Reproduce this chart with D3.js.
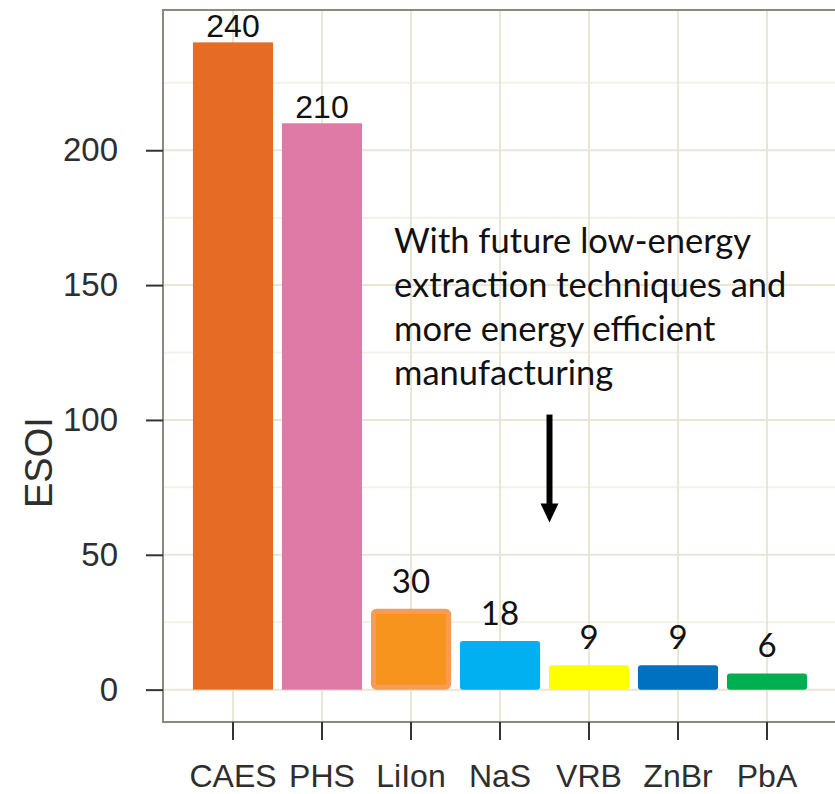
<!DOCTYPE html>
<html>
<head>
<meta charset="utf-8">
<script src="https://cdn.jsdelivr.net/npm/d3@7"></script>
<style>
  body { margin: 0; background: #ffffff; }
  svg { display: block; }
</style>
</head>
<body>
<svg id="chart" width="835" height="794"></svg>
<script>
// Energy stored on invested (ESOI) per storage technology
const categories = ["CAES", "PHS", "LiIon", "NaS", "VRB", "ZnBr", "PbA"];
const esoiValues = [240, 210, 30, 18, 9, 9, 6];
const barColors = ["#e66b25", "#df79a6", "#f7941d", "#00b0f0", "#ffff00", "#0070c0", "#00b050"];
const barOutlines = [null, null, "#f59d58", null, null, null, null];
const yTicks = [0, 50, 100, 150, 200];
const yMinorTicks = [25, 75, 125, 175, 225];
const yTitle = "ESOI";
const noteLines = ["With future low-energy", "extraction techniques and", "more energy efficient", "manufacturing"];

const svg = d3.select("#chart");
const panel = { left: 163, top: 10, right: 842, bottom: 722 };

const y = d3.scaleLinear().domain([-12, 252]).range([panel.bottom, panel.top]);
const x = d3.scaleBand()
  .domain(categories)
  .range([188.5, 811.5])
  .paddingInner(0.1)
  .paddingOuter(0.05);
const cx = c => x(c) + x.bandwidth() / 2;

const sansFont = "'Liberation Sans', Arial, sans-serif";
const noteFont = "Lato, 'Open Sans', sans-serif";

// panel background + grid
svg.append("rect")
  .attr("x", panel.left).attr("y", panel.top)
  .attr("width", panel.right - panel.left).attr("height", panel.bottom - panel.top)
  .attr("fill", "#ffffff");

const grid = svg.append("g");
grid.selectAll("line.minor").data(yMinorTicks).join("line")
  .attr("class", "minor")
  .attr("x1", panel.left).attr("x2", panel.right)
  .attr("y1", d => y(d)).attr("y2", d => y(d))
  .attr("stroke", "#f3f2e6").attr("stroke-width", 2);
grid.selectAll("line.major").data(yTicks).join("line")
  .attr("class", "major")
  .attr("x1", panel.left).attr("x2", panel.right)
  .attr("y1", d => y(d)).attr("y2", d => y(d))
  .attr("stroke", "#e9e6d6").attr("stroke-width", 2);
grid.selectAll("line.vert").data(categories).join("line")
  .attr("class", "vert")
  .attr("x1", d => cx(d)).attr("x2", d => cx(d))
  .attr("y1", panel.top).attr("y2", panel.bottom)
  .attr("stroke", "#e9e6d6").attr("stroke-width", 2);

// bars
const rows = categories.map((c, i) => ({ cat: c, value: esoiValues[i], color: barColors[i], outline: barOutlines[i], idx: i }));

svg.append("g").selectAll("rect").data(rows).join("rect")
  .attr("x", d => x(d.cat) + (d.outline ? 2.5 : 0))
  .attr("y", d => y(d.value) + (d.outline ? 2.5 : 0))
  .attr("width", d => x.bandwidth() - (d.outline ? 5 : 0))
  .attr("height", d => y(0) - y(d.value) - (d.outline ? 5 : 0))
  .attr("rx", d => d.idx < 2 ? 0 : 3)
  .attr("fill", d => d.color)
  .attr("stroke", d => d.outline || "none")
  .attr("stroke-width", d => d.outline ? 5 : 0);

// value labels
svg.append("g").selectAll("text").data(rows).join("text")
  .attr("x", d => cx(d.cat))
  .attr("y", d => y(d.value) - (d.idx < 2 ? 5 : 16))
  .attr("text-anchor", "middle")
  .attr("font-family", d => d.idx < 2 ? sansFont : noteFont)
  .attr("font-size", d => d.idx < 2 ? 32 : 33)
  .attr("fill", "#111111")
  .text(d => d.value);

// panel border
svg.append("rect")
  .attr("x", panel.left).attr("y", panel.top)
  .attr("width", panel.right - panel.left).attr("height", panel.bottom - panel.top)
  .attr("fill", "none").attr("stroke", "#8c897c").attr("stroke-width", 2);

// y axis
const yAxis = svg.append("g")
  .attr("transform", `translate(${panel.left},0)`)
  .call(d3.axisLeft(y).tickValues(yTicks).tickSize(17).tickPadding(28));
yAxis.select(".domain").remove();
yAxis.selectAll(".tick line").attr("stroke", "#333333").attr("stroke-width", 2);
yAxis.selectAll(".tick text")
  .attr("font-family", sansFont).attr("font-size", 33).attr("fill", "#2e2e2e");

// x axis
const xAxis = svg.append("g")
  .attr("transform", `translate(0,${panel.bottom})`)
  .call(d3.axisBottom(x).tickSize(18).tickPadding(24));
xAxis.select(".domain").remove();
xAxis.selectAll(".tick line").attr("stroke", "#333333").attr("stroke-width", 2);
xAxis.selectAll(".tick text")
  .attr("font-family", sansFont).attr("font-size", 32).attr("fill", "#2e2e2e");

// y title
svg.append("text")
  .attr("transform", `translate(52,${(y(100) + y(75)) / 2 + 9}) rotate(-90)`)
  .attr("text-anchor", "middle")
  .attr("font-family", sansFont).attr("font-size", 38).attr("fill", "#2e2e2e")
  .text(yTitle);

// annotation text and arrow
const noteX = cx("LiIon") - 17;
svg.append("g").selectAll("text").data(noteLines).join("text")
  .attr("x", noteX)
  .attr("y", (d, i) => y(162) + i * 44)
  .attr("font-family", noteFont).attr("font-size", 34.5).attr("fill", "#111111")
  .text(d => d);

const arrowX = (cx("NaS") + cx("VRB")) / 2 + 5;
const arrowTop = y(102), arrowTip = y(62);
svg.append("line")
  .attr("x1", arrowX).attr("x2", arrowX)
  .attr("y1", arrowTop).attr("y2", arrowTip - 16)
  .attr("stroke", "#000000").attr("stroke-width", 6);
svg.append("path")
  .attr("d", `M${arrowX - 9},${arrowTip - 19} L${arrowX + 9},${arrowTip - 19} L${arrowX},${arrowTip} Z`)
  .attr("fill", "#000000");
</script>
</body>
</html>
